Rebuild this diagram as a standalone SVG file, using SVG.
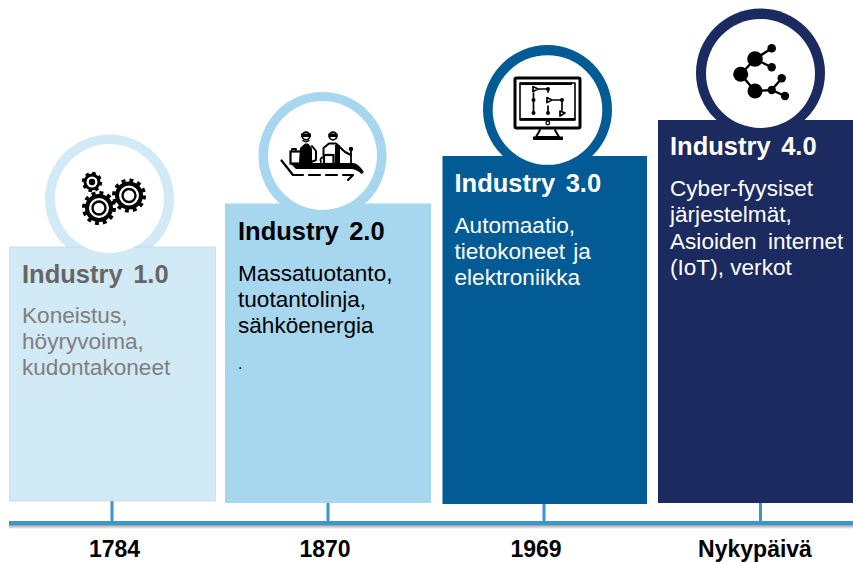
<svg xmlns="http://www.w3.org/2000/svg" width="853" height="562" viewBox="0 0 853 562">
<defs>
<linearGradient id="sh" x1="0" y1="0" x2="0" y2="1"><stop offset="0" stop-color="#9a9a9a"/><stop offset="1" stop-color="#ffffff"/></linearGradient>
</defs>
<style>
text{font-family:"Liberation Sans",Arial,sans-serif}
.t{font-size:25.5px;font-weight:700;word-spacing:3.5px}
.b{font-size:22.6px;word-spacing:2px}
.y{font-size:23px;font-weight:700;fill:#000;text-anchor:middle}
.k{fill:#000;stroke:none}
.l{fill:none;stroke:#000;stroke-linecap:round;stroke-linejoin:round}
.tick{stroke:#3A96CE;stroke-width:3;fill:none}
.inner{fill:#fff}
</style>
<rect width="853" height="562" fill="#fff"/>
<g id="connectors">
<rect x="9" y="525" width="844" height="4" fill="url(#sh)"/>
<path class="tick" d="M112 501V523M328 503V523M544 504V523M760.500 503V523"/>
<rect x="9" y="521" width="844" height="4" fill="#3A96CE"/>
</g>
<g id="industry1">
<circle cx="109.500" cy="199" r="64.500" fill="#D2E9F6"/>
<rect x="9.500" y="247" width="206" height="254" fill="#D2E9F6" stroke="#C3D5DE" stroke-width="0.700"/>
<circle class="inner" cx="109.500" cy="198.500" r="54.500"/>
<g>
<circle cx="92" cy="182" r="8.500" fill="none" stroke="#000" stroke-width="3.400" stroke-dasharray="3.300 3.370"/>
<circle cx="92" cy="182" r="7" fill="none" stroke="#000" stroke-width="3"/>
<circle class="k" cx="92" cy="182" r="3.200"/>
<circle cx="99" cy="208" r="14.800" fill="none" stroke="#000" stroke-width="4.400" stroke-dasharray="3.800 3.950"/>
<circle cx="99" cy="208" r="12" fill="none" stroke="#000" stroke-width="4"/>
<circle cx="99" cy="208" r="6.500" fill="none" stroke="#000" stroke-width="2.400"/>
<circle cx="129" cy="195.500" r="14.800" fill="none" stroke="#000" stroke-width="4.400" stroke-dasharray="3.800 3.950"/>
<circle cx="129" cy="195.500" r="12" fill="none" stroke="#000" stroke-width="4"/>
<circle cx="129" cy="195.500" r="6.500" fill="none" stroke="#000" stroke-width="2.400"/>
</g>
<text class="t" x="22" y="283" fill="#666666">Industry 1.0</text>
<text class="b" fill="#7F7F7F"><tspan x="22" y="323">Koneistus,</tspan><tspan x="22" y="349">höyryvoima,</tspan><tspan x="22" y="375">kudontakoneet</tspan></text>
</g>
<g id="industry2">
<circle cx="322.500" cy="156" r="64" fill="#A7D6EF"/>
<rect x="225" y="203.500" width="206" height="299.500" fill="#A7D6EF"/>
<circle class="inner" cx="322.500" cy="155.500" r="54.500"/>
<g>
<path class="k" d="M290 163H353Q358 163 364 172L361.500 174Q356 169 351 169H296Z"/>
<path class="l" stroke-width="2.200" d="M281.500 160.500L293 175H303M309 175H320M326 175H337M343 175H353L348 180"/>
<rect x="290.500" y="151.500" width="10.500" height="12" fill="#fff" stroke="#000" stroke-width="2.200"/>
<path class="l" stroke-width="1.800" d="M292 151V149H296V151"/>
<circle class="l" stroke-width="1.800" cx="306" cy="136" r="3.800"/>
<path class="k" d="M301 133.500H311V137H301Z"/>
<path class="l" stroke-width="1.400" d="M303 140.500Q306 143 309 140.500"/>
<path class="k" d="M300 148L305 143.500H308L312 148V163H299Z"/>
<path class="l" stroke-width="2" d="M312 146L316 151V160L309 163"/>
<circle class="l" stroke-width="1.800" cx="333" cy="136" r="3.800"/>
<path class="k" d="M328.500 133.500H337.500V137H328.500Z"/>
<path class="l" stroke-width="2" d="M323.500 155V148L329 143.500H336L345 152L351 155"/>
<path class="k" d="M335 145H340V163H335Z"/>
<rect x="324" y="155" width="9.500" height="9" fill="#fff" stroke="#000" stroke-width="2.200"/>
<path class="l" stroke-width="1.800" d="M324 157Q319 158 321 162M351 163V149"/>
<circle class="k" cx="351" cy="149" r="2.200"/>
</g>
<text class="t" x="238" y="240" fill="#000">Industry 2.0</text>
<text class="b" fill="#000"><tspan x="238" y="281">Massatuotanto,</tspan><tspan x="238" y="307">tuotantolinja,</tspan><tspan x="238" y="333">sähköenergia</tspan></text>
<text x="238" y="369" font-size="16" fill="#000">.</text>
</g>
<g id="industry3">
<circle cx="547.500" cy="109.500" r="64.500" fill="#025B94"/>
<rect x="442.500" y="156" width="204.500" height="348" fill="#025B94"/>
<circle class="inner" cx="547.500" cy="110" r="54.800"/>
<g>
<rect x="515" y="78" width="65" height="50" rx="1.500" fill="#fff" stroke="#000" stroke-width="3"/>
<path class="l" stroke-width="1.600" d="M520 120V83H575V120H520"/>
<path class="k" d="M520 82.500H572V85H520ZM520 118H575V120.500H520Z"/>
<path class="l" stroke-width="1.700" d="M533 86.500L538 89L533 91.500ZM547 97.500L552 100L547 102.500ZM560 111L565 113L560 116Z"/>
<path class="l" stroke-width="1.700" d="M539 89H548V92M553 100H562V110M533.500 93V113M548 106V113"/>
<g class="k"><circle cx="548" cy="89" r="2"/><circle cx="533.500" cy="100" r="2"/><circle cx="533.500" cy="113" r="2"/><circle cx="548" cy="113" r="2"/><circle cx="562" cy="100" r="2"/></g>
<circle class="l" stroke-width="1.300" cx="547.800" cy="123" r="1.800"/>
<path class="l" stroke-width="2" d="M540 130L536 137H559L555 130"/>
<path class="k" d="M533 136.500H563V140H533Z"/>
</g>
<text class="t" x="454.500" y="192" fill="#fff">Industry 3.0</text>
<text class="b" fill="#fff"><tspan x="454.500" y="233">Automaatio,</tspan><tspan x="454.500" y="259">tietokoneet ja</tspan><tspan x="454.500" y="285">elektroniikka</tspan></text>
</g>
<g id="industry4">
<circle cx="760.500" cy="73" r="64.500" fill="#1B2B5F"/>
<rect x="658" y="120" width="195" height="383" fill="#1B2B5F"/>
<circle class="inner" cx="760.500" cy="73.500" r="54.500"/>
<g>
<path class="l" stroke-width="2.400" d="M771.700 48.300L755 59L771.700 67.300M755 59L740.700 74.300L755 91L771.700 90L781.700 78.300M771.700 90L785 96"/>
<g class="k"><circle cx="755" cy="59" r="7.800"/><circle cx="771.700" cy="48.300" r="4.300"/><circle cx="771.700" cy="67.300" r="4.200"/><circle cx="740.700" cy="74.300" r="7.500"/><circle cx="755" cy="91" r="7.500"/><circle cx="771.700" cy="90" r="4.200"/><circle cx="781.700" cy="78.300" r="4.200"/><circle cx="785" cy="96" r="4.200"/></g>
</g>
<text class="t" x="670" y="155" fill="#fff">Industry 4.0</text>
<text class="b" fill="#fff"><tspan x="670" y="195.500">Cyber-fyysiset</tspan><tspan x="670" y="222">järjestelmät,</tspan><tspan x="670" y="249" style="word-spacing:5px">Asioiden internet</tspan><tspan x="670" y="275" style="word-spacing:0">(IoT), verkot</tspan></text>
</g>
<g id="years">
<text class="y" x="114.500" y="557">1784</text>
<text class="y" x="325" y="557">1870</text>
<text class="y" x="536" y="557">1969</text>
<text class="y" x="755" y="557">Nykypäivä</text>
</g>
</svg>
